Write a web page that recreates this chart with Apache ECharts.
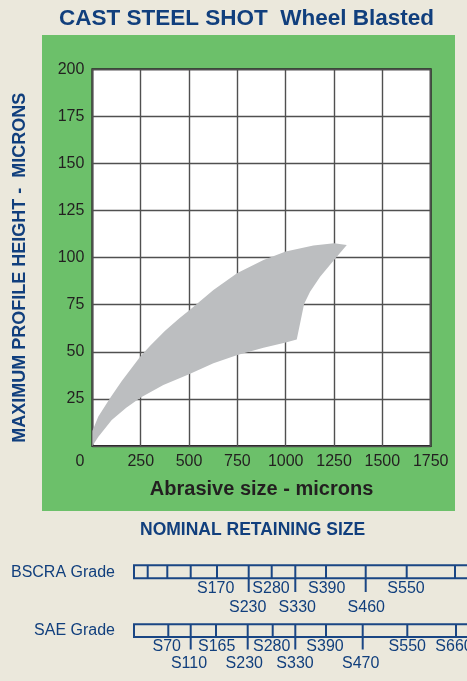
<!DOCTYPE html>
<html>
<head>
<meta charset="utf-8">
<script src="https://cdn.jsdelivr.net/npm/echarts@6/dist/echarts.min.js"></script>
<style>
html,body{margin:0;padding:0;background:#ebe8dc;}
#chart{width:467px;height:681px;}
</style>
</head>
<body>
<div id="chart"></div>
<script>
// ---- main chart data ----
const xTicks = [0, 250, 500, 750, 1000, 1250, 1500, 1750];
const yTicks = [0, 25, 50, 75, 100, 125, 150, 175, 200];
// band outline: upper edge (left to right)
const upperX = [0, 0, 30, 91, 152, 200, 250, 300, 376, 450, 500, 626, 750, 885, 1000, 1143, 1250, 1316];
const upperY = [0, 8, 15.5, 25.3, 34.5, 41, 47.8, 53.3, 61.2, 67.8, 72, 82.8, 91.8, 98.8, 103.2, 106.4, 107.6, 106.7];
// right edge (top to bottom)
const rightX = [1250, 1178, 1126, 1095, 1078, 1057];
const rightY = [98.8, 89.9, 81.9, 75.4, 66.9, 56.6];
// lower edge (right to left)
const lowerX = [1000, 885, 750, 626, 500, 367, 250, 175, 100, 31];
const lowerY = [54.9, 52.2, 48.3, 43.9, 38.1, 32.4, 25.8, 20.3, 13.8, 4.9];

// ---- grade scales (scale units along the bar) ----
const bscraDividers = [13.7, 33.3, 56.7, 83, 114.7, 137.7, 161.3, 192, 231.7, 272.7, 321];
const bscraLong = [114.7, 161.3, 231.7];
const bscraRow1 = ['S170', 'S280', 'S390', 'S550'];
const bscraRow1X = [81.7, 137, 192.7, 272];
const bscraRow2 = ['S230', 'S330', 'S460'];
const bscraRow2X = [113.7, 163.3, 232.3];

const saeDividers = [34.3, 56.7, 82, 113.7, 138.7, 161.3, 192, 228.7, 273.3, 322];
const saeLong = [56.7, 113.7, 161.3, 228.7];
const saeRow1 = ['S70', 'S165', 'S280', 'S390', 'S550', 'S660'];
const saeRow1X = [32.7, 82.7, 137.7, 191, 273.3, 320];
const saeRow2 = ['S110', 'S230', 'S330', 'S470'];
const saeRow2X = [55, 110.3, 161, 226.7];

const BLUE = '#113f7d';
const LINEBLUE = '#1a4684';
const INK = '#231f20';
const FONT = '"Liberation Sans", Arial, Helvetica, sans-serif';

const outline = [];
upperX.forEach((x, i) => outline.push([x, upperY[i]]));
rightX.forEach((x, i) => outline.push([x, rightY[i]]));
lowerX.forEach((x, i) => outline.push([x, lowerY[i]]));

function gradeSeries(dividers, longs, row1, row1X, row2, row2X, layout) {
  return {
    type: 'custom',
    xAxisIndex: 1, yAxisIndex: 1,
    silent: true,
    clip: false,
    data: [[0, 0]],
    renderItem: function (params, api) {
      const kids = [];
      const tl = api.coord([0, layout.top]);
      const br = api.coord([360, layout.bottom]);
      kids.push({type: 'rect', shape: {x: tl[0], y: tl[1], width: br[0] - tl[0], height: br[1] - tl[1]},
        style: {fill: 'none', stroke: LINEBLUE, lineWidth: 2}});
      dividers.forEach(function (d) {
        const isLong = longs.indexOf(d) >= 0;
        const a = api.coord([d, layout.top]);
        const b = api.coord([d, isLong ? layout.longBottom : layout.bottom]);
        kids.push({type: 'line', shape: {x1: a[0], y1: a[1], x2: b[0], y2: b[1]},
          style: {stroke: LINEBLUE, lineWidth: 2}});
      });
      function labels(names, xs, row) {
        names.forEach(function (n, i) {
          const p = api.coord([xs[i], row]);
          kids.push({type: 'text', x: p[0], y: p[1],
            style: {text: n, fill: BLUE, font: '16px ' + FONT, align: 'center', verticalAlign: 'middle'}});
        });
      }
      labels(row1, row1X, layout.row1);
      labels(row2, row2X, layout.row2);
      return {type: 'group', children: kids};
    }
  };
}

const chart = echarts.init(document.getElementById('chart'), null, {renderer: 'canvas'});
chart.setOption({
  backgroundColor: '#ebe8dc',
  animation: false,
  textStyle: {fontFamily: FONT},
  graphic: [
    {type: 'rect', left: 42, top: 35, shape: {width: 413, height: 476}, style: {fill: '#6cc06a'}, z: -10},
    {type: 'text', left: 59, top: 7, style: {text: 'CAST STEEL SHOT  Wheel Blasted', fill: BLUE, font: 'bold 22.5px ' + FONT}},
    {type: 'text', left: 140, top: 521, style: {text: 'NOMINAL RETAINING SIZE', fill: BLUE, font: 'bold 17.5px ' + FONT}},
    {type: 'text', right: 352, top: 565, style: {text: 'BSCRA Grade', fill: BLUE, font: '16px ' + FONT}},
    {type: 'text', right: 352, top: 623, style: {text: 'SAE Grade', fill: BLUE, font: '16px ' + FONT}}
  ],
  grid: [
    {left: 92.4, right: 36.3, top: 69.3, bottom: 235, show: true, backgroundColor: '#ffffff', borderColor: INK, borderWidth: 2},
    {left: 134, top: 540, width: 333, height: 130, show: false}
  ],
  xAxis: [
    {type: 'value', min: xTicks[0], max: xTicks[xTicks.length - 1], interval: 250,
      name: 'Abrasive size - microns', nameLocation: 'middle', nameGap: 33,
      nameTextStyle: {color: INK, fontSize: 20, fontWeight: 'bold', fontFamily: FONT},
      axisLine: {show: false}, axisTick: {show: false},
      axisLabel: {color: INK, fontSize: 16, margin: 8, fontFamily: FONT,
        formatter: function (v) { return v === 0 ? '{z|0}' : String(v); },
        rich: {z: {color: INK, fontSize: 16, fontFamily: FONT, padding: [0, 25, 0, 0]}}},
      splitLine: {show: true, lineStyle: {color: '#505050', width: 1.4}}},
    {gridIndex: 1, type: 'value', min: 0, max: 333, show: false}
  ],
  yAxis: [
    {type: 'value', min: yTicks[0], max: yTicks[yTicks.length - 1], interval: 25,
      name: 'MAXIMUM PROFILE HEIGHT -  MICRONS', nameLocation: 'middle', nameGap: 63,
      nameTextStyle: {color: BLUE, fontSize: 18, fontWeight: 'bold', fontFamily: FONT, padding: [0, 20, 0, 0]},
      axisLine: {show: false}, axisTick: {show: false},
      axisLabel: {color: INK, fontSize: 16, margin: 8, showMinLabel: false, fontFamily: FONT},
      splitLine: {show: true, lineStyle: {color: '#505050', width: 1.4}}},
    {gridIndex: 1, type: 'value', min: 0, max: 130, inverse: true, show: false}
  ],
  series: [
    {type: 'custom', xAxisIndex: 0, yAxisIndex: 0, silent: true, z: 10,
      data: outline,
      renderItem: function (params, api) {
        if (params.dataIndex !== 0) return null;
        const pts = outline.map(function (p) { return api.coord(p); });
        return {type: 'polygon', z2: 100, shape: {points: pts}, style: {fill: '#bcbec0', stroke: 'none', opacity: 1}};
      }},
    gradeSeries(bscraDividers, bscraLong, bscraRow1, bscraRow1X, bscraRow2, bscraRow2X,
      {top: 25.3, bottom: 38.3, longBottom: 52, row1: 49, row2: 67.3}),
    gradeSeries(saeDividers, saeLong, saeRow1, saeRow1X, saeRow2, saeRow2X,
      {top: 84.3, bottom: 97, longBottom: 109.5, row1: 106.7, row2: 123.3})
  ]
});
</script>
</body>
</html>
